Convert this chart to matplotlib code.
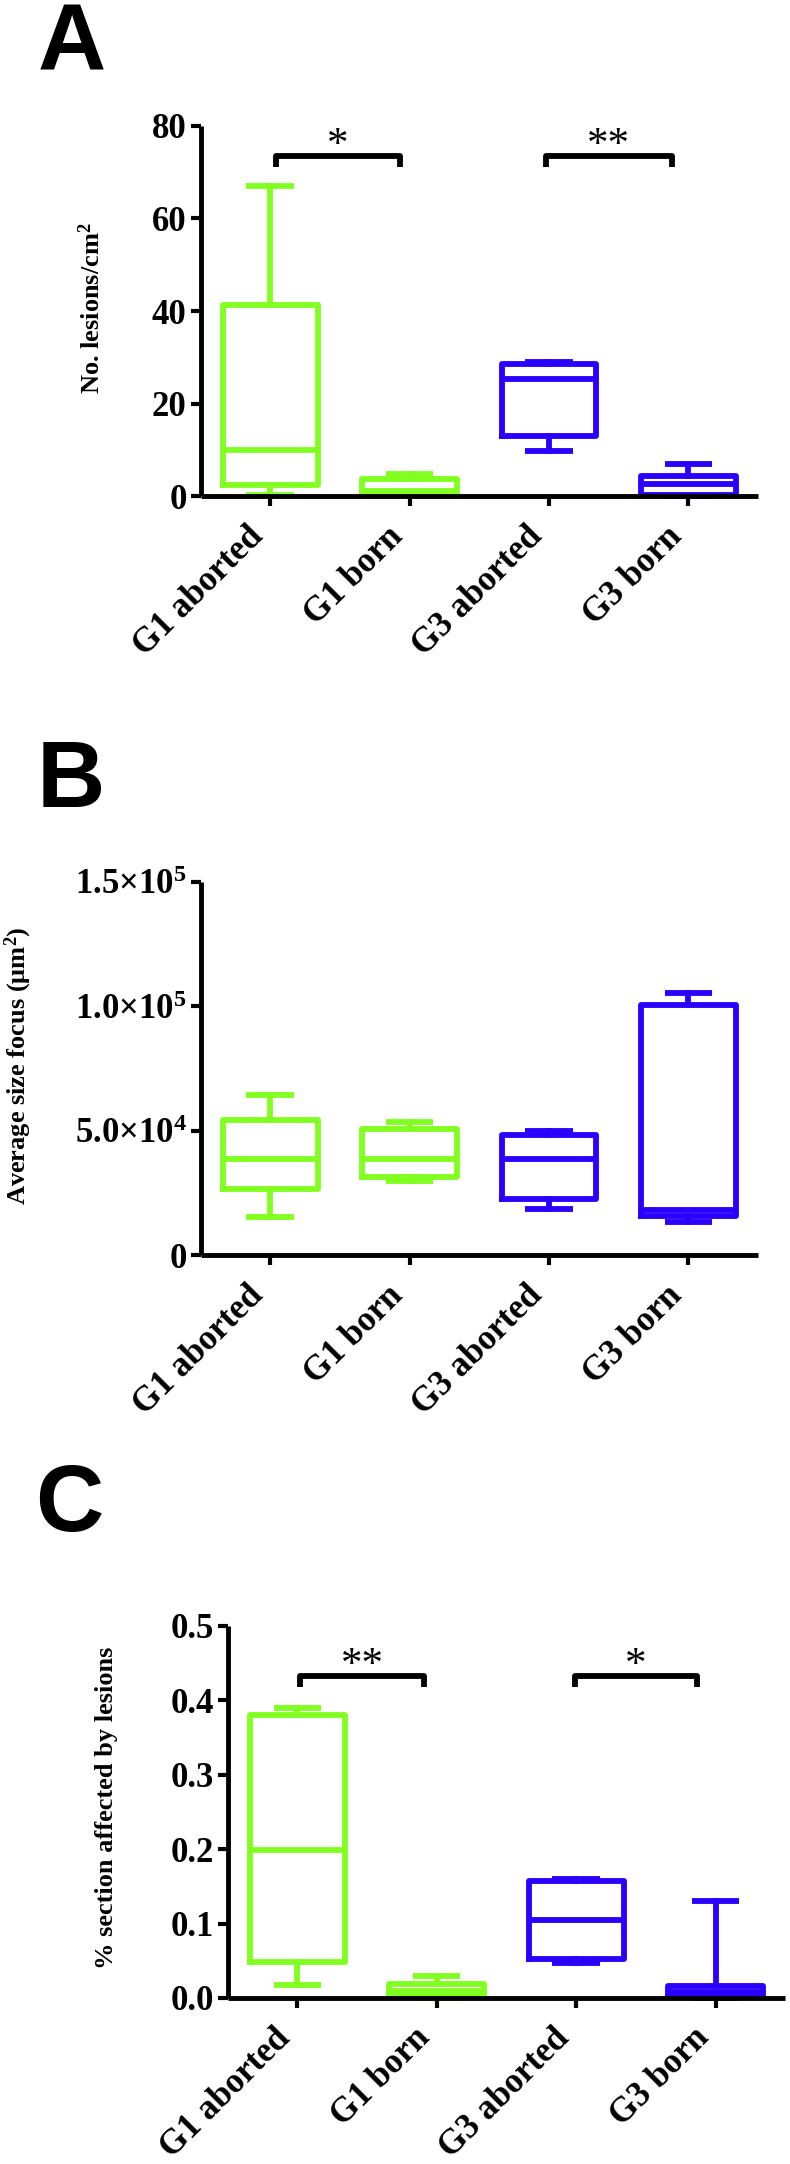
import matplotlib
matplotlib.use('Agg')
import matplotlib.pyplot as plt
from matplotlib.transforms import ScaledTranslation

plt.rcParams.update({
    'font.family': ['Liberation Serif', 'DejaVu Serif'],
    'font.weight': 'bold',
    'mathtext.fontset': 'custom',
    'mathtext.rm': 'Liberation Serif:bold',
    'mathtext.it': 'Liberation Serif:bold:italic',
    'mathtext.bf': 'Liberation Serif:bold',
})

# ---------------- data ----------------
categories = ['G1 aborted', 'G1 born', 'G3 aborted', 'G3 born']
box_colors = ['#80FF20', '#80FF20', '#2A00FF', '#2A00FF']

# Panel A: No. lesions/cm2
a_min = [0.2, 0.2, 9.8, 0.0]
a_q1 = [2.5, 0.5, 13.1, 0.4]
a_med = [10.0, 1.2, 25.4, 2.7]
a_q3 = [41.2, 3.8, 28.6, 4.4]
a_max = [67.0, 4.8, 29.1, 6.9]
a_yticks = [0, 20, 40, 60, 80]
a_yticklabels = ['0', '20', '40', '60', '80']
a_sig_pairs = [(0.04, 0.93), (1.98, 2.88)]
a_sig_labels = ['*', '**']
a_sig_y = 73.4
a_sig_leg = 71.1

# Panel B: Average size focus (um2)
b_min = [15500, 29700, 18800, 13400]
b_q1 = [26800, 31400, 22700, 15600]
b_med = [38500, 38750, 38750, 18400]
b_q3 = [54400, 50900, 48400, 100500]
b_max = [64300, 53400, 50100, 105200]
b_yticks = [0, 50000, 100000, 150000]
b_yticklabels = ['0', r'$5.0{\times}10^{4}$', r'$1.0{\times}10^{5}$', r'$1.5{\times}10^{5}$']

# Panel C: % section affected by lesions
c_min = [0.018, 0.0, 0.047, 0.0]
c_q1 = [0.049, 0.003, 0.053, 0.002]
c_med = [0.199, 0.010, 0.105, 0.0087]
c_q3 = [0.380, 0.019, 0.157, 0.0165]
c_max = [0.390, 0.029, 0.160, 0.130]
c_yticks = [0.0, 0.1, 0.2, 0.3, 0.4, 0.5]
c_yticklabels = ['0.0', '0.1', '0.2', '0.3', '0.4', '0.5']
c_sig_pairs = [(0.02, 0.91), (1.99, 2.87)]
c_sig_labels = ['**', '*']
c_sig_y = 0.433
c_sig_leg = 0.418

# ---------------- figure ----------------
W, H = 790, 2164
fig = plt.figure(figsize=(W / 100, H / 100), dpi=100)

LW = 4.2
TICK_FS = 25
LABEL_FS = 19


def px_axes(left, top, right, bottom):
    return fig.add_axes([left / W, 1 - bottom / H, (right - left) / W, (bottom - top) / H])


def draw_panel(ax, mins, q1s, meds, q3s, maxs, ylim, yticks, yticklabels, ylabel, label_xy):
    for i in range(len(categories)):
        st = dict(whislo=mins[i], q1=q1s[i], med=meds[i], q3=q3s[i], whishi=maxs[i], fliers=[])
        c = box_colors[i]
        art = ax.bxp([st], positions=[i], widths=0.68, capwidths=0.34, showfliers=False,
                     manage_ticks=False,
                     boxprops=dict(color=c, lw=LW, solid_joinstyle='round'),
                     whiskerprops=dict(color=c, lw=LW),
                     capprops=dict(color=c, lw=LW, solid_capstyle='butt'),
                     medianprops=dict(color=c, lw=LW, solid_capstyle='butt'))
        for key in art:
            for ln in art[key]:
                ln.set_clip_on(False)
    ax.set_xlim(-0.5, 3.5)
    ax.set_ylim(*ylim)
    ax.set_yticks(yticks)
    ax.set_yticklabels(yticklabels, fontsize=TICK_FS, fontweight='bold')
    ax.set_xticks(range(len(categories)))
    ax.set_xticklabels(categories, rotation=45, ha='right', va='top', fontsize=TICK_FS, fontweight='bold')
    off = ScaledTranslation(6.5 / 100, 0, fig.dpi_scale_trans)
    for t in ax.get_xticklabels():
        t.set_transform(t.get_transform() + off)
    for s in ['top', 'right']:
        ax.spines[s].set_visible(False)
    for s in ['left', 'bottom']:
        ax.spines[s].set_linewidth(3.5)
        ax.spines[s].set_capstyle('butt')
    ax.tick_params(axis='both', length=7, width=3, direction='out')
    ax.tick_params(axis='x', pad=10)
    ax.tick_params(axis='y', pad=3)
    ax.set_ylabel(ylabel, fontsize=LABEL_FS, fontweight='bold', va='center')
    ax.yaxis.set_label_coords(*label_xy)


def draw_sig(ax, pairs, labels, y, yleg):
    for (x0, x1), lab in zip(pairs, labels):
        ax.plot([x0, x0, x1, x1], [yleg, y, y, yleg], color='black', lw=4.2,
                solid_joinstyle='round', solid_capstyle='butt', clip_on=False)
        ax.text((x0 + x1) / 2, y, lab, ha='center', va='baseline', fontsize=31,
                fontweight='normal', color='black')


# Panel A
axA = px_axes(200.5, 125.7, 758, 496.4)
draw_panel(axA, a_min, a_q1, a_med, a_q3, a_max, (0, 80), a_yticks, a_yticklabels,
           r'No. lesions/cm$^{2}$', (-0.196, 0.508))
draw_sig(axA, a_sig_pairs, a_sig_labels, a_sig_y, a_sig_leg)

# Panel B
axB = px_axes(200.5, 882, 758, 1255.3)
draw_panel(axB, b_min, b_q1, b_med, b_q3, b_max, (0, 150000), b_yticks, b_yticklabels,
           r'Average size focus (μm$^{2}$)', (-0.326, 0.507))

# Panel C
axC = px_axes(227.7, 1625.7, 785.2, 1998)
draw_panel(axC, c_min, c_q1, c_med, c_q3, c_max, (0, 0.5), c_yticks, c_yticklabels,
           '% section affected by lesions', (-0.218, 0.51))
draw_sig(axC, c_sig_pairs, c_sig_labels, c_sig_y, c_sig_leg)

# Panel letters
for letter, x, yb in [('A', 38, 70), ('B', 37, 807), ('C', 35, 1531)]:
    fig.text(x / W, 1 - yb / H, letter, ha='left', va='baseline', fontsize=68,
             fontweight='bold', family=['Liberation Sans', 'DejaVu Sans'])

fig.savefig('out.png', dpi=100)
